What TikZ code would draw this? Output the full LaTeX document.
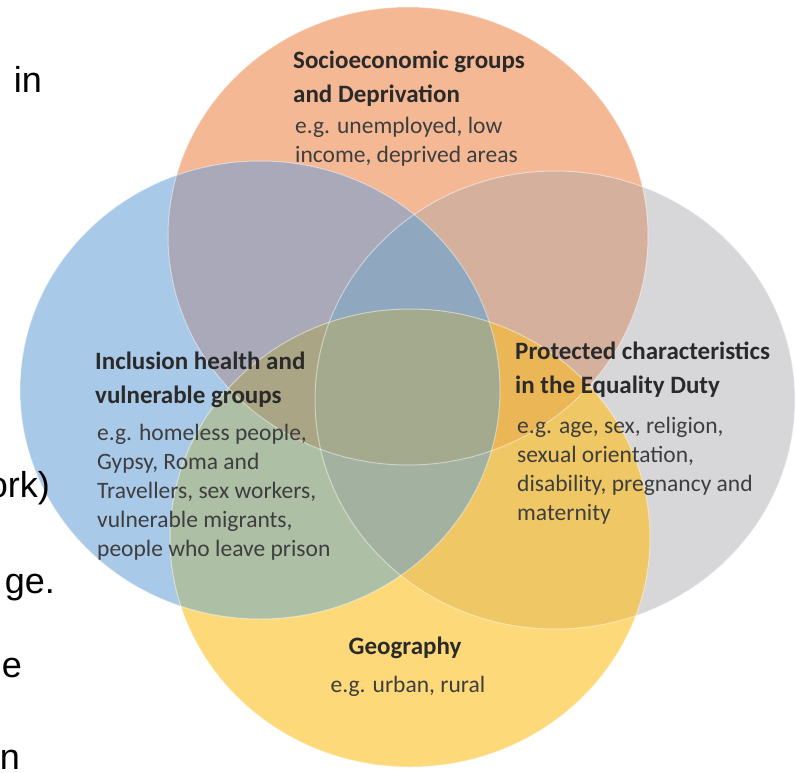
\documentclass[tikz,border=0pt]{standalone}
\usepackage{fontspec}
\setmainfont{Carlito}
\newfontfamily\slidefont{Liberation Sans}
\definecolor{cO}{HTML}{F4B894}
\definecolor{cB}{HTML}{A9C9E8}
\definecolor{cG}{HTML}{D7D7DA}
\definecolor{cY}{HTML}{FDD97A}
\definecolor{cOB}{HTML}{AAA9BA}
\definecolor{cOG}{HTML}{D4B09D}
\definecolor{cBG}{HTML}{A6B5C8}
\definecolor{cBY}{HTML}{ADC0A6}
\definecolor{cGY}{HTML}{EFC764}
\definecolor{cOY}{HTML}{E8B070}
\definecolor{cOBG}{HTML}{8FA8BF}
\definecolor{cOBY}{HTML}{AAA584}
\definecolor{cOGY}{HTML}{EBB656}
\definecolor{cBGY}{HTML}{A3B2A0}
\definecolor{cOBGY}{HTML}{A4AA8E}
\definecolor{titlec}{HTML}{2A2A2A}
\definecolor{bodyc}{HTML}{3E3E3E}
\begin{document}
\begin{tikzpicture}[x=1pt,y=-1pt,
  titletext/.style={font=\fontsize{25}{34}\selectfont\bfseries, text=titlec, align=left, inner sep=0pt, anchor=north west},
  bodytext/.style={font=\fontsize{23.5}{29}\selectfont, text=bodyc, align=left, inner sep=0pt, anchor=north west},
  fragtext/.style={font=\slidefont\fontsize{36}{40}\selectfont, text=black, inner sep=0pt, anchor=base east},
  rim/.style={draw=white, draw opacity=0.45, line width=1pt}]
\fill[white] (0,0) rectangle (796,772);
\useasboundingbox (0,0) rectangle (796,772);
\def\vennO{(408,236) ellipse [x radius=240pt, y radius=229pt]}
\def\vennB{(260,390) ellipse [x radius=240pt, y radius=229pt]}
\def\vennG{(555,400) ellipse [x radius=240pt, y radius=229pt]}
\def\vennY{(410,538) ellipse [x radius=240pt, y radius=229pt]}
% single sets
\fill[cO] \vennO;
\fill[cB] \vennB;
\fill[cG] \vennG;
\fill[cY] \vennY;
% pairs
\begin{scope}\clip \vennO; \fill[cOB] \vennB; \end{scope}
\begin{scope}\clip \vennO; \fill[cOG] \vennG; \end{scope}
\begin{scope}\clip \vennO; \fill[cOY] \vennY; \end{scope}
\begin{scope}\clip \vennB; \fill[cBG] \vennG; \end{scope}
\begin{scope}\clip \vennB; \fill[cBY] \vennY; \end{scope}
\begin{scope}\clip \vennG; \fill[cGY] \vennY; \end{scope}
% triples
\begin{scope}\clip \vennO; \clip \vennB; \fill[cOBG] \vennG; \end{scope}
\begin{scope}\clip \vennO; \clip \vennB; \fill[cOBY] \vennY; \end{scope}
\begin{scope}\clip \vennO; \clip \vennG; \fill[cOGY] \vennY; \end{scope}
\begin{scope}\clip \vennB; \clip \vennG; \fill[cBGY] \vennY; \end{scope}
% all four
\begin{scope}\clip \vennO; \clip \vennB; \clip \vennG; \fill[cOBGY] \vennY; \end{scope}
% faint rims
\draw[rim] \vennO;
\draw[rim] \vennB;
\draw[rim] \vennG;
\draw[rim] \vennY;
% labels
\node[titletext] (socT) at (293,51) {Socioeconomic groups\\and Deprivation};
\node[bodytext] (socB) at (295,117) {e.g. unemployed, low\\income, deprived areas};
\node[titletext] (incT) at (95,352) {Inclusion health and\\vulnerable groups};
\node[bodytext] (incB) at (97,424) {e.g. homeless people,\\Gypsy, Roma and\\Travellers, sex workers,\\vulnerable migrants,\\people who leave prison};
\node[titletext] (proT) at (515,342) {Protected characteristics\\in the Equality Duty};
\node[bodytext] (proB) at (517,417) {e.g. age, sex, religion,\\sexual orientation,\\disability, pregnancy and\\maternity};
\node[titletext, anchor=north, align=center] (geoT) at (405,637) {Geography};
\node[bodytext, anchor=north, align=center] (geoB) at (408,676) {e.g. urban, rural};
% fragments of the slide text behind
\node[fragtext] (f1) at (42,92) {in};
\node[fragtext] (f2) at (50,497) {ork)};
\node[fragtext] (f3) at (55,593) {ge.};
\node[fragtext] (f4) at (22,677) {e};
\node[fragtext] (f5) at (20,769) {n};
\end{tikzpicture}
\end{document}
